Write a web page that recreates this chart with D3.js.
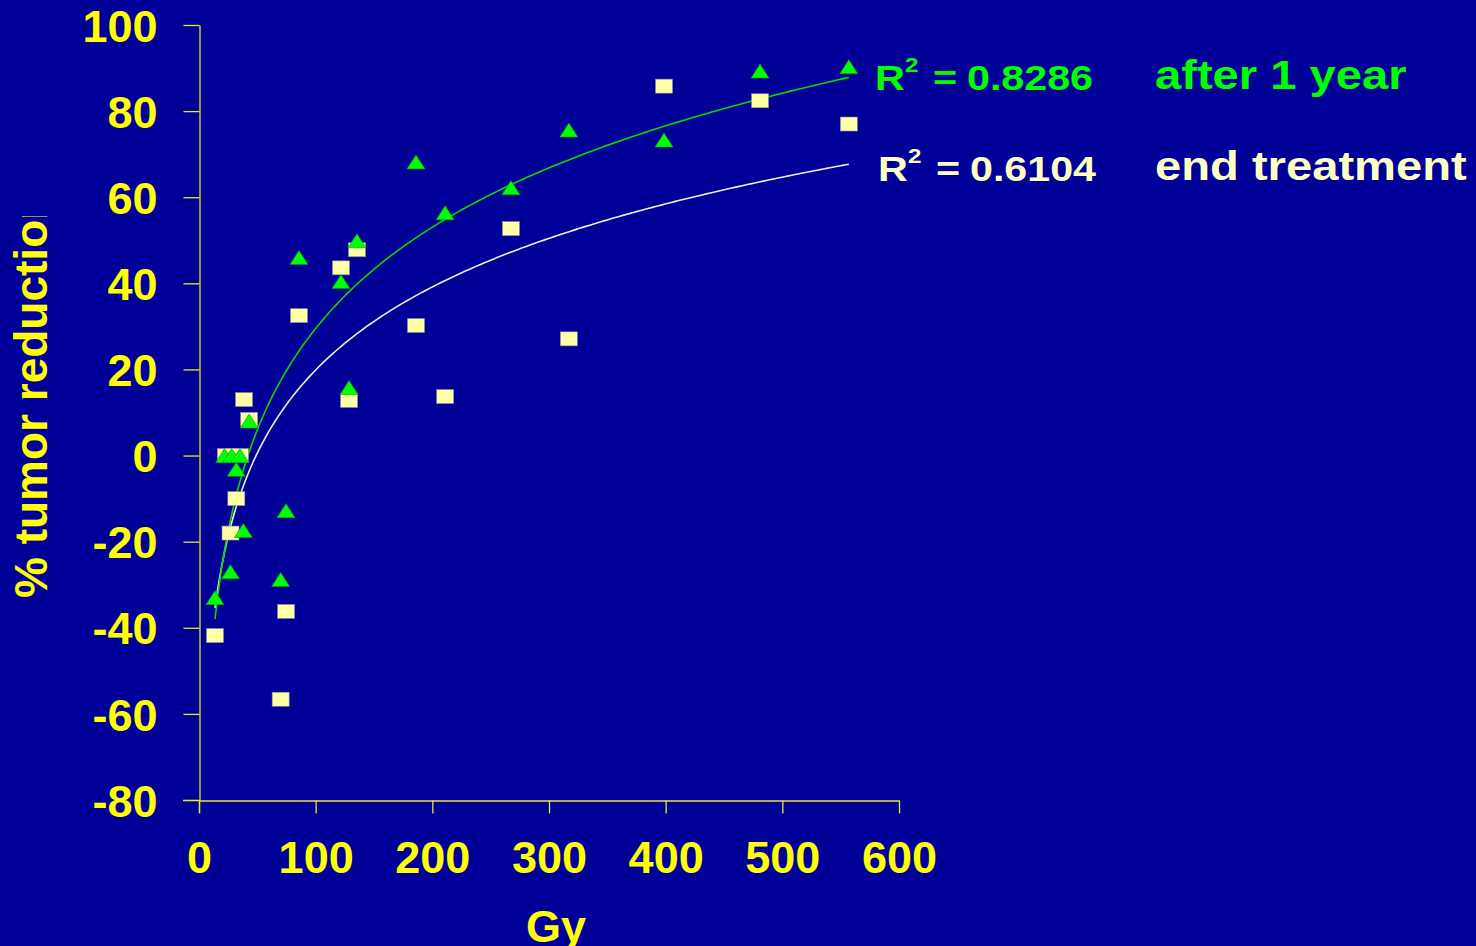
<!DOCTYPE html>
<html><head><meta charset="utf-8">
<script src="https://cdn.jsdelivr.net/npm/d3@7"></script>
<style>html,body{margin:0;padding:0;background:#000099;}svg{display:block;}</style>
</head><body>
<svg id="chart" width="1476" height="946"></svg>
<script>
// ---- data ----
const yearX = [13.7, 22, 28, 35, 32, 43, 38, 27, 70, 74.6, 85.7, 121.7, 135.4, 128.6, 186, 211, 267.4, 317, 398.6, 480.9, 557];
const yearY = [-33, 0, 0, 0, -3.2, 8, -17.4, -27, -28.8, -12.8, 46, 40.4, 49.9, 15.8, 68.2, 56.4, 62.2, 75.6, 73.3, 89.3, 90.3];
const endX = [38.6, 43, 23, 35, 28, 32, 27, 74.6, 13.7, 70, 85.7, 121.7, 135.4, 128.6, 186, 211, 267.4, 317, 398.6, 480.9, 557];
const endY = [13, 8.4, 0, 0, 0, -10, -18, -36.2, -41.8, -56.6, 32.5, 43.6, 47.8, 12.8, 30.2, 13.7, 52.7, 27.1, 85.8, 82.4, 77];
const xTicks = [0, 100, 200, 300, 400, 500, 600];
const yTicks = [-80, -60, -40, -20, 0, 20, 40, 60, 80, 100];
const r2Labels = ["0.8286", "0.6104"];
const seriesNames = ["after 1 year", "end treatment"];

const svg = d3.select("#chart");
const FONT = "'Liberation Sans', Arial, sans-serif";
const YEL = "#ffff00", GREEN = "#00ff00", CREAM = "#ffffc4";
const AXIS = "#e8e830";

svg.append("rect").attr("width", 1476).attr("height", 946).attr("fill", "#000099");

const x = d3.scaleLinear().domain([0, 600]).range([199, 899]);
const y = d3.scaleLinear().domain([-80, 100]).range([800, 25]);

// axes
const gy = svg.append("g").attr("transform", "translate(199.5,0)")
  .call(d3.axisLeft(y).tickValues(yTicks).tickSize(16).tickSizeOuter(0).tickPadding(26).tickFormat(d => String(d)));
const gx = svg.append("g").attr("transform", "translate(0,800.5)")
  .call(d3.axisBottom(x).tickValues(xTicks).tickSize(13).tickSizeOuter(0).tickPadding(28).tickFormat(d => String(d)));
[gx, gy].forEach(g => {
  g.selectAll("path,line").attr("stroke", AXIS).attr("stroke-width", 1.3);
  g.selectAll("text").attr("fill", YEL).attr("font-family", FONT).attr("font-weight", "bold").attr("font-size", 45);
});
gy.selectAll("text").attr("dy", "0.36em");
// axis line extensions past the crossing
svg.append("line").attr("x1", 183).attr("x2", 199).attr("y1", 800.5).attr("y2", 800.5).attr("stroke", AXIS).attr("stroke-width", 1.3);
svg.append("line").attr("x1", 199.5).attr("x2", 199.5).attr("y1", 800).attr("y2", 813).attr("stroke", AXIS).attr("stroke-width", 1.3);

// axis titles
svg.append("text").attr("x", 556).attr("y", 942).attr("text-anchor", "middle")
  .attr("fill", YEL).attr("font-family", FONT).attr("font-weight", "bold").attr("font-size", 45).text("Gy");
svg.append("defs").append("clipPath").attr("id", "ytclip")
  .append("rect").attr("x", 0).attr("y", 216).attr("width", 80).attr("height", 500);
svg.append("g").attr("clip-path", "url(#ytclip)")
  .append("text").attr("transform", "translate(47,598) rotate(-90)").attr("text-anchor", "start")
  .attr("fill", YEL).attr("font-family", FONT).attr("font-weight", "bold").attr("font-size", 46).text("% tumor reduction");

// log trend fits from data
function logFit(xs, ys) {
  const lx = xs.map(Math.log);
  const mx = d3.mean(lx), my = d3.mean(ys);
  let sxy = 0, sxx = 0;
  lx.forEach((v, i) => { sxy += (v - mx) * (ys[i] - my); sxx += (v - mx) * (v - mx); });
  const a = sxy / sxx, b = my - a * mx;
  return v => a * Math.log(v) + b;
}
function drawTrend(xs, ys, color) {
  const f = logFit(xs, ys);
  const lo = d3.min(xs), hi = d3.max(xs);
  const pts = d3.range(0, 201).map(i => { const v = lo + (hi - lo) * i / 200; return [x(v), y(f(v))]; });
  svg.append("path").attr("d", d3.line()(pts)).attr("fill", "none").attr("stroke", color).attr("stroke-width", 1.6);
}
drawTrend(endX, endY, "#eeeedd");
drawTrend(yearX, yearY, "#00dd00");

// squares (end treatment)
svg.append("g").selectAll("rect").data(endX.map((v, i) => [v, endY[i]])).join("rect")
  .attr("x", d => x(d[0]) - 8.5).attr("y", d => y(d[1]) - 7).attr("width", 17).attr("height", 14)
  .attr("fill", "#ffffa8").attr("stroke", "#8a8aa0").attr("stroke-width", 0.6);
// triangles (after 1 year)
svg.append("g").selectAll("path").data(yearX.map((v, i) => [v, yearY[i]])).join("path")
  .attr("d", "M0,-7 L9,7 L-9,7 Z")
  .attr("transform", d => `translate(${x(d[0])},${y(d[1])})`)
  .attr("fill", GREEN).attr("stroke", "#00a000").attr("stroke-width", 0.6);

// labels (horizontally stretched bold text)
function stext(tx, ty, size, sx, str, color) {
  return svg.append("text").attr("transform", `translate(${tx},${ty}) scale(${sx},1)`)
    .attr("fill", color).attr("font-family", FONT).attr("font-weight", "bold").attr("font-size", size).text(str);
}
function label(xR, yb, r2, name, color) {
  stext(xR, yb, 35, 1.18, "R", color);
  stext(xR + 30, yb - 18, 21, 1.15, "2", color);
  stext(xR + 58, yb, 35, 1.18, "=", color);
  stext(xR + 92, yb, 35, 1.177, r2, color);
  stext(1155, yb - 1, 41, 1.15, name, color);
}
label(875, 90, r2Labels[0], seriesNames[0], GREEN);
label(878, 181, r2Labels[1], seriesNames[1], CREAM);
</script>
</body></html>
